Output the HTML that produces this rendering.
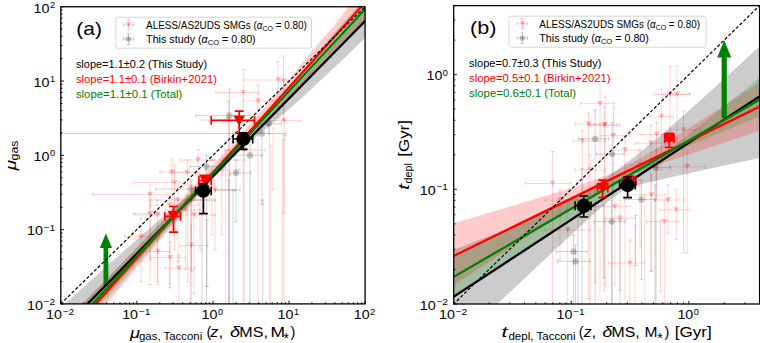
<!DOCTYPE html>
<html><head><meta charset="utf-8"><style>html,body{margin:0;padding:0;background:#fff;}svg{display:block;}</style></head>
<body><svg width="760" height="343" viewBox="0 0 760 343">
<rect width="760" height="343" fill="#fff"/>
<defs><clipPath id="ca"><rect x="60.8" y="6.75" width="304.3" height="297.15"/></clipPath><clipPath id="cb"><rect x="453.7" y="5.6" width="305.9" height="298.4"/></clipPath></defs>
<g clip-path="url(#ca)">
<path d="M244.5 80H287M244.5 78V82M287 78V82M278 62V118M276 62H280M276 118H280" stroke="#f00" stroke-width="0.9" fill="none" stroke-opacity="0.2"/>
<path d="M275 77.3L281 77.3L278 82.7Z" fill="#f00" fill-opacity="0.25"/>
<path d="M283.5 56V120M281.5 56H285.5M281.5 120H285.5" stroke="#f00" stroke-width="0.9" fill="none" stroke-opacity="0.2"/>
<path d="M280.5 78.3L286.5 78.3L283.5 83.7Z" fill="#f00" fill-opacity="0.25"/>
<path d="M215.7 92.5H259M215.7 90.5V94.5M259 90.5V94.5M243.3 69.4V312M241.3 69.4H245.3M241.3 312H245.3" stroke="#f00" stroke-width="0.9" fill="none" stroke-opacity="0.2"/>
<path d="M240.3 89.8L246.3 89.8L243.3 95.2Z" fill="#f00" fill-opacity="0.25"/>
<path d="M260.4 120.6H301M260.4 118.6V122.6M301 118.6V122.6M284 89V312M282 89H286M282 312H286" stroke="#f00" stroke-width="0.9" fill="none" stroke-opacity="0.2"/>
<path d="M281 117.9L287 117.9L284 123.3Z" fill="#f00" fill-opacity="0.25"/>
<path d="M243 101H275M243 99V103M275 99V103M258 85V312M256 85H260M256 312H260" stroke="#f00" stroke-width="0.9" fill="none" stroke-opacity="0.2"/>
<path d="M255 98.3L261 98.3L258 103.7Z" fill="#f00" fill-opacity="0.25"/>
<path d="M200 120H250M200 118V122M250 118V122M228.3 101V312M226.3 101H230.3M226.3 312H230.3" stroke="#f00" stroke-width="0.9" fill="none" stroke-opacity="0.2"/>
<path d="M225.3 117.3L231.3 117.3L228.3 122.7Z" fill="#f00" fill-opacity="0.25"/>
<path d="M92.6 194.4H166.6M92.6 192.4V196.4M166.6 192.4V196.4M150 185V284.5M148 185H152M148 284.5H152" stroke="#f00" stroke-width="0.9" fill="none" stroke-opacity="0.2"/>
<path d="M147 191.7L153 191.7L150 197.1Z" fill="#f00" fill-opacity="0.25"/>
<path d="M133.8 182.6H185M133.8 180.6V184.6M185 180.6V184.6M174.5 165V250M172.5 165H176.5M172.5 250H176.5" stroke="#f00" stroke-width="0.9" fill="none" stroke-opacity="0.2"/>
<path d="M171.5 179.9L177.5 179.9L174.5 185.3Z" fill="#f00" fill-opacity="0.25"/>
<path d="M170 172.6H200M170 170.6V174.6M200 170.6V174.6M187.6 160V282M185.6 160H189.6M185.6 282H189.6" stroke="#f00" stroke-width="0.9" fill="none" stroke-opacity="0.2"/>
<path d="M184.6 169.9L190.6 169.9L187.6 175.3Z" fill="#f00" fill-opacity="0.25"/>
<path d="M165 210H200M165 208V212M200 208V212M185.8 195V269.6M183.8 195H187.8M183.8 269.6H187.8" stroke="#f00" stroke-width="0.9" fill="none" stroke-opacity="0.2"/>
<path d="M182.8 207.3L188.8 207.3L185.8 212.7Z" fill="#f00" fill-opacity="0.25"/>
<path d="M175 200H210M175 198V202M210 198V202M190.8 185V312M188.8 185H192.8M188.8 312H192.8" stroke="#f00" stroke-width="0.9" fill="none" stroke-opacity="0.2"/>
<path d="M187.8 197.3L193.8 197.3L190.8 202.7Z" fill="#f00" fill-opacity="0.25"/>
<path d="M180 215H215M180 213V217M215 213V217M194 205V293.2M192 205H196M192 293.2H196" stroke="#f00" stroke-width="0.9" fill="none" stroke-opacity="0.2"/>
<path d="M191 212.3L197 212.3L194 217.7Z" fill="#f00" fill-opacity="0.25"/>
<path d="M195 175H230M195 173V177M230 173V177M211.9 160V235M209.9 160H213.9M209.9 235H213.9" stroke="#f00" stroke-width="0.9" fill="none" stroke-opacity="0.2"/>
<path d="M208.9 172.3L214.9 172.3L211.9 177.7Z" fill="#f00" fill-opacity="0.25"/>
<path d="M205 170H240M205 168V172M240 168V172M221.8 155V235M219.8 155H223.8M219.8 235H223.8" stroke="#f00" stroke-width="0.9" fill="none" stroke-opacity="0.2"/>
<path d="M218.8 167.3L224.8 167.3L221.8 172.7Z" fill="#f00" fill-opacity="0.25"/>
<path d="M210 160H245M210 158V162M245 158V162M225.5 150V312M223.5 150H227.5M223.5 312H227.5" stroke="#f00" stroke-width="0.9" fill="none" stroke-opacity="0.2"/>
<path d="M222.5 157.3L228.5 157.3L225.5 162.7Z" fill="#f00" fill-opacity="0.25"/>
<path d="M225 150H265M225 148V152M265 148V152M244.1 140V312M242.1 140H246.1M242.1 312H246.1" stroke="#f00" stroke-width="0.9" fill="none" stroke-opacity="0.2"/>
<path d="M241.1 147.3L247.1 147.3L244.1 152.7Z" fill="#f00" fill-opacity="0.25"/>
<path d="M269.4 125V312M267.4 125H271.4M267.4 312H271.4" stroke="#f00" stroke-width="0.9" fill="none" stroke-opacity="0.2"/>
<path d="M273.1 128V189.8M271.1 128H275.1M271.1 189.8H275.1" stroke="#f00" stroke-width="0.9" fill="none" stroke-opacity="0.2"/>
<path d="M284 135V213M282 135H286M282 213H286" stroke="#f00" stroke-width="0.9" fill="none" stroke-opacity="0.2"/>
<path d="M270.9 145V312M268.9 145H272.9M268.9 312H272.9" stroke="#f00" stroke-width="0.9" fill="none" stroke-opacity="0.2"/>
<path d="M282.6 140V312M280.6 140H284.6M280.6 312H284.6" stroke="#f00" stroke-width="0.9" fill="none" stroke-opacity="0.2"/>
<path d="M135 215H170M135 213V217M170 213V217M157.3 200V282M155.3 200H159.3M155.3 282H159.3" stroke="#f00" stroke-width="0.9" fill="none" stroke-opacity="0.2"/>
<path d="M154.3 212.3L160.3 212.3L157.3 217.7Z" fill="#f00" fill-opacity="0.25"/>
<path d="M150 205H190M150 203V207M190 203V207M169.7 195V284M167.7 195H171.7M167.7 284H171.7" stroke="#f00" stroke-width="0.9" fill="none" stroke-opacity="0.2"/>
<path d="M166.7 202.3L172.7 202.3L169.7 207.7Z" fill="#f00" fill-opacity="0.25"/>
<path d="M185 185H215M185 183V187M215 183V187M200 175V250M198 175H202M198 250H202" stroke="#f00" stroke-width="0.9" fill="none" stroke-opacity="0.2"/>
<path d="M197 182.3L203 182.3L200 187.7Z" fill="#f00" fill-opacity="0.25"/>
<path d="M200 190H235M200 188V192M235 188V192M215 180V250M213 180H217M213 250H217" stroke="#f00" stroke-width="0.9" fill="none" stroke-opacity="0.2"/>
<path d="M212 187.3L218 187.3L215 192.7Z" fill="#f00" fill-opacity="0.25"/>
<path d="M150 200H195M150 198V202M195 198V202M178 188V262M176 188H180M176 262H180" stroke="#f00" stroke-width="0.9" fill="none" stroke-opacity="0.2"/>
<path d="M175 197.3L181 197.3L178 202.7Z" fill="#f00" fill-opacity="0.25"/>
<path d="M160 172H186M160 170V174M186 170V174M172 160V230M170 160H174M170 230H174" stroke="#f00" stroke-width="0.9" fill="none" stroke-opacity="0.2"/>
<path d="M169 169.3L175 169.3L172 174.7Z" fill="#f00" fill-opacity="0.25"/>
<path d="M180 160H215M180 158V162M215 158V162M198 150V205M196 150H200M196 205H200" stroke="#f00" stroke-width="0.9" fill="none" stroke-opacity="0.2"/>
<path d="M195 157.3L201 157.3L198 162.7Z" fill="#f00" fill-opacity="0.25"/>
<path d="M124.5 236.4H159.4M124.5 234.4V238.4M159.4 234.4V238.4M141.2 218V281.8M139.2 218H143.2M139.2 281.8H143.2" stroke="#f00" stroke-width="0.9" fill="none" stroke-opacity="0.2"/>
<path d="M138.2 233.7L144.2 233.7L141.2 239.1Z" fill="#f00" fill-opacity="0.25"/>
<path d="M142.7 251.5H170M142.7 249.5V253.5M170 249.5V253.5M157.9 239V284.8M155.9 239H159.9M155.9 284.8H159.9" stroke="#f00" stroke-width="0.9" fill="none" stroke-opacity="0.2"/>
<path d="M154.9 248.8L160.9 248.8L157.9 254.2Z" fill="#f00" fill-opacity="0.25"/>
<path d="M150.3 257.6H185.2M150.3 255.6V259.6M185.2 255.6V259.6M170 242V287.9M168 242H172M168 287.9H172" stroke="#f00" stroke-width="0.9" fill="none" stroke-opacity="0.2"/>
<path d="M167 254.9L173 254.9L170 260.3Z" fill="#f00" fill-opacity="0.25"/>
<path d="M180.6 245.5H207.9M180.6 243.5V247.5M207.9 243.5V247.5M191.2 225V312M189.2 225H193.2M189.2 312H193.2" stroke="#f00" stroke-width="0.9" fill="none" stroke-opacity="0.2"/>
<path d="M188.2 242.8L194.2 242.8L191.2 248.2Z" fill="#f00" fill-opacity="0.25"/>
<path d="M133.6 213.6H159.4M133.6 211.6V215.6M159.4 211.6V215.6M150 200V260M148 200H152M148 260H152" stroke="#f00" stroke-width="0.9" fill="none" stroke-opacity="0.2"/>
<path d="M147 210.9L153 210.9L150 216.3Z" fill="#f00" fill-opacity="0.25"/>
<path d="M165 268.2H195M165 266.2V270.2M195 266.2V270.2M179 255V312M177 255H181M177 312H181" stroke="#f00" stroke-width="0.9" fill="none" stroke-opacity="0.2"/>
<path d="M176 265.5L182 265.5L179 270.9Z" fill="#f00" fill-opacity="0.25"/>
<path d="M60.8 133.5H286M60.8 131.5V135.5M286 131.5V135.5M262 125V204.3M260 125H264M260 204.3H264" stroke="#000" stroke-width="0.9" fill="none" stroke-opacity="0.2"/>
<circle cx="262" cy="133.5" r="3.2" fill="#000" fill-opacity="0.22"/>
<path d="M196 115.4H253.8M196 113.4V117.4M253.8 113.4V117.4M229.4 89.1V312M227.4 89.1H231.4M227.4 312H231.4" stroke="#000" stroke-width="0.9" fill="none" stroke-opacity="0.2"/>
<circle cx="229.4" cy="115.4" r="3.2" fill="#000" fill-opacity="0.22"/>
<path d="M259 123.8H281.4M259 121.8V125.8M281.4 121.8V125.8M268.8 114V133.7M266.8 114H270.8M266.8 133.7H270.8" stroke="#000" stroke-width="0.9" fill="none" stroke-opacity="0.2"/>
<circle cx="268.8" cy="123.8" r="3.2" fill="#000" fill-opacity="0.22"/>
<path d="M235.8 155.2H262M235.8 153.2V157.2M262 153.2V157.2M250 145V312M248 145H252M248 312H252" stroke="#000" stroke-width="0.9" fill="none" stroke-opacity="0.2"/>
<circle cx="250" cy="155.2" r="3.2" fill="#000" fill-opacity="0.22"/>
<path d="M230 173H251M230 171V175M251 171V175M236 160V221.8M234 160H238M234 221.8H238" stroke="#000" stroke-width="0.9" fill="none" stroke-opacity="0.2"/>
<circle cx="236" cy="173" r="3.2" fill="#000" fill-opacity="0.22"/>
<path d="M190 166.6H225M190 164.6V168.6M225 164.6V168.6M206.6 155V312M204.6 155H208.6M204.6 312H208.6" stroke="#000" stroke-width="0.9" fill="none" stroke-opacity="0.2"/>
<circle cx="206.6" cy="166.6" r="3.2" fill="#000" fill-opacity="0.22"/>
<path d="M156 189H195.5M156 187V191M195.5 187V191M191.4 180V270.9M189.4 180H193.4M189.4 270.9H193.4" stroke="#000" stroke-width="0.9" fill="none" stroke-opacity="0.2"/>
<circle cx="191.4" cy="189" r="3.2" fill="#000" fill-opacity="0.22"/>
<path d="M190 200H215M190 198V202M215 198V202M202 190V312M200 190H204M200 312H204" stroke="#000" stroke-width="0.9" fill="none" stroke-opacity="0.2"/>
<path d="M215 190H240M215 188V192M240 188V192M228.8 180V312M226.8 180H230.8M226.8 312H230.8" stroke="#000" stroke-width="0.9" fill="none" stroke-opacity="0.2"/>
<path d="M233 190V312M231 190H235M231 312H235" stroke="#000" stroke-width="0.9" fill="none" stroke-opacity="0.2"/>
<path d="M262.8 200V312M260.8 200H264.8M260.8 312H264.8" stroke="#000" stroke-width="0.9" fill="none" stroke-opacity="0.2"/>
<path d="M206.9 220V286.5M204.9 220H208.9M204.9 286.5H208.9" stroke="#000" stroke-width="0.9" fill="none" stroke-opacity="0.2"/>
<path d="M49.39 318.6L52.11 316.05L54.84 313.5L57.57 310.95L60.29 308.41L63.02 305.86L65.74 303.31L68.47 300.76L71.2 298.22L73.92 295.75L76.65 293.31L79.37 290.86L82.1 288.42L84.83 285.98L87.55 283.54L90.28 281.09L93.01 278.65L95.73 276.21L98.46 273.77L101.18 271.32L103.91 268.88L106.64 266.44L109.36 264L112.09 261.55L114.81 259.11L117.54 256.67L120.27 254.23L122.99 251.78L125.72 249.34L128.44 246.94L131.17 244.54L133.9 242.14L136.62 239.74L139.35 237.34L142.07 234.94L144.8 232.54L147.53 230.14L150.25 227.74L152.98 225.34L155.7 222.94L158.43 220.56L161.16 218.26L163.88 215.97L166.61 213.68L169.33 211.39L172.06 209.09L174.79 206.8L177.51 204.51L180.24 202.22L182.96 199.93L185.69 197.49L188.42 195.04L191.14 192.6L193.87 190.16L196.59 187.72L199.32 185.28L202.05 182.84L204.77 180.4L207.5 177.95L210.22 175.51L212.95 173.07L215.68 170.43L218.4 167.78L221.13 165.13L223.85 162.49L226.58 159.84L229.31 157.2L232.03 154.55L234.76 151.9L237.48 149.26L240.21 146.61L242.94 143.97L245.66 141.06L248.39 138.1L251.11 135.15L253.84 132.19L256.57 129.23L259.29 126.28L262.02 123.32L264.74 120.36L267.47 117.41L270.2 114.45L272.92 111.49L275.65 108.54L278.37 105.58L281.1 102.63L283.83 99.67L286.55 96.71L289.28 93.75L292 90.77L294.73 87.8L297.46 84.82L300.18 81.84L302.91 78.86L305.63 75.88L308.36 72.9L311.09 69.92L313.81 66.94L316.54 63.97L319.26 60.99L321.99 57.98L324.72 54.97L327.44 51.96L330.17 48.95L332.89 45.94L335.62 42.94L338.35 39.93L341.07 36.92L343.8 33.91L346.53 30.9L349.25 27.89L351.98 24.88L354.7 21.92L357.43 18.97L360.16 16.03L362.88 13.09L365.61 10.15L368.33 7.21L371.06 4.27L373.79 1.32L376.51 -1.62L376.51 26.95L373.79 29.6L371.06 32.25L368.33 34.9L365.61 37.56L362.88 40.21L360.16 42.84L357.43 45.46L354.7 48.09L351.98 50.71L349.25 53.34L346.53 55.97L343.8 58.59L341.07 61.19L338.35 63.74L335.62 66.29L332.89 68.85L330.17 71.4L327.44 73.95L324.72 76.51L321.99 79.06L319.26 81.61L316.54 84.17L313.81 86.72L311.09 89.27L308.36 91.83L305.63 94.38L302.91 96.93L300.18 99.49L297.46 101.85L294.73 104.17L292 106.49L289.28 108.81L286.55 111.13L283.83 113.45L281.1 115.78L278.37 118.1L275.65 120.42L272.92 122.74L270.2 125.06L267.47 127.38L264.74 129.7L262.02 132.02L259.29 134.34L256.57 136.66L253.84 138.98L251.11 141.3L248.39 143.63L245.66 145.95L242.94 148.27L240.21 150.59L237.48 153.32L234.76 156.17L232.03 159.02L229.31 161.87L226.58 164.72L223.85 167.57L221.13 170.42L218.4 173.27L215.68 176.12L212.95 178.97L210.22 181.82L207.5 184.67L204.77 187.52L202.05 190.37L199.32 193.22L196.59 196.07L193.87 198.92L191.14 201.77L188.42 204.62L185.69 207.47L182.96 210.32L180.24 213.33L177.51 216.38L174.79 219.42L172.06 222.47L169.33 225.51L166.61 228.56L163.88 231.6L161.16 234.65L158.43 237.69L155.7 240.74L152.98 243.78L150.25 246.83L147.53 249.87L144.8 252.92L142.07 255.96L139.35 259.01L136.62 262.05L133.9 265.1L131.17 268.15L128.44 271.19L125.72 274.24L122.99 277.28L120.27 280.33L117.54 283.37L114.81 286.42L112.09 289.46L109.36 292.51L106.64 295.55L103.91 298.51L101.18 301.45L98.46 304.4L95.73 307.34L93.01 310.29L90.28 313.23L87.55 316.18L84.83 319.12L82.1 322.07L79.37 325.01L76.65 327.96L73.92 330.91L71.2 333.85L68.47 336.8L65.74 339.74L63.02 342.69L60.29 345.63L57.57 348.58L54.84 351.52L52.11 354.47L49.39 357.41Z" fill="#000" fill-opacity="0.2" stroke="none"/>
<path d="M49.39 339.73L52.11 336.82L54.84 333.92L57.57 331.01L60.29 328.1L63.02 325.19L65.74 322.29L68.47 319.38L71.2 316.47L73.92 313.56L76.65 310.66L79.37 307.75L82.1 304.84L84.83 301.93L87.55 299.03L90.28 296.16L93.01 293.29L95.73 290.43L98.46 287.56L101.18 284.69L103.91 281.82L106.64 278.96L109.36 276.09L112.09 273.22L114.81 270.35L117.54 267.49L120.27 264.62L122.99 261.75L125.72 258.88L128.44 256.02L131.17 253.15L133.9 250.28L136.62 247.41L139.35 244.54L142.07 241.68L144.8 238.81L147.53 235.94L150.25 233.07L152.98 230.21L155.7 227.34L158.43 224.47L161.16 221.6L163.88 218.74L166.61 215.87L169.33 213L172.06 210.13L174.79 207.27L177.51 204.29L180.24 201.3L182.96 198.31L185.69 195.33L188.42 192.34L191.14 189.35L193.87 186.37L196.59 183.38L199.32 180.4L202.05 177.41L204.77 174.42L207.5 171.44L210.22 168.45L212.95 165.47L215.68 162.48L218.4 159.49L221.13 156.51L223.85 153.52L226.58 150.53L229.31 147.55L232.03 144.56L234.76 141.58L237.48 138.51L240.21 135.4L242.94 132.29L245.66 129.18L248.39 126.07L251.11 122.96L253.84 119.85L256.57 116.74L259.29 113.63L262.02 110.52L264.74 107.41L267.47 104.29L270.2 101.18L272.92 97.96L275.65 94.7L278.37 91.44L281.1 88.18L283.83 84.92L286.55 81.66L289.28 78.41L292 75.15L294.73 71.89L297.46 68.63L300.18 65.37L302.91 62.11L305.63 58.86L308.36 55.6L311.09 52.34L313.81 49.08L316.54 45.82L319.26 42.56L321.99 39.36L324.72 36.25L327.44 33.14L330.17 30.02L332.89 26.91L335.62 23.67L338.35 20.18L341.07 16.69L343.8 13.21L346.53 9.72L349.25 6.24L351.98 2.97L354.7 -0.3L357.43 -3.58L360.16 -6.85L362.88 -10.12L365.61 -13.4L368.33 -16.67L371.06 -19.94L373.79 -23.22L376.51 -26.49L376.51 9.22L373.79 11.99L371.06 14.77L368.33 17.54L365.61 20.32L362.88 23.1L360.16 25.83L357.43 28.28L354.7 30.72L351.98 33.17L349.25 35.62L346.53 38.07L343.8 40.51L341.07 43.38L338.35 46.24L335.62 49.1L332.89 51.96L330.17 54.82L327.44 57.68L324.72 60.54L321.99 63.34L319.26 66.14L316.54 68.93L313.81 71.73L311.09 74.53L308.36 77.33L305.63 80.13L302.91 82.92L300.18 85.72L297.46 88.52L294.73 91.32L292 94.11L289.28 96.91L286.55 99.77L283.83 102.63L281.1 105.49L278.37 108.36L275.65 111.22L272.92 114.08L270.2 116.94L267.47 119.81L264.74 122.67L262.02 125.53L259.29 128.4L256.57 131.26L253.84 134.12L251.11 136.98L248.39 139.85L245.66 142.71L242.94 145.57L240.21 148.43L237.48 151.3L234.76 154.25L232.03 157.37L229.31 160.49L226.58 163.61L223.85 166.73L221.13 169.85L218.4 172.97L215.68 176.09L212.95 179.21L210.22 182.33L207.5 185.45L204.77 188.57L202.05 191.69L199.32 194.8L196.59 197.92L193.87 201.04L191.14 204.16L188.42 207.28L185.69 210.4L182.96 213.52L180.24 216.64L177.51 219.76L174.79 222.88L172.06 226.11L169.33 229.34L166.61 232.57L163.88 235.8L161.16 239.02L158.43 242.25L155.7 245.48L152.98 248.71L150.25 251.94L147.53 255.16L144.8 258.39L142.07 261.62L139.35 264.85L136.62 268.08L133.9 271.31L131.17 274.53L128.44 277.76L125.72 280.99L122.99 284.22L120.27 287.45L117.54 290.67L114.81 293.9L112.09 297.13L109.36 300.34L106.64 303.5L103.91 306.65L101.18 309.81L98.46 312.97L95.73 316.13L93.01 319.29L90.28 322.45L87.55 325.61L84.83 328.77L82.1 331.93L79.37 335.09L76.65 338.25L73.92 341.41L71.2 344.57L68.47 347.72L65.74 350.88L63.02 354.04L60.29 357.2L57.57 360.36L54.84 363.52L52.11 366.68L49.39 369.84Z" fill="#f00" fill-opacity="0.2" stroke="none"/>
<path d="M49.39 338.07L52.11 335.22L54.84 332.37L57.57 329.52L60.29 326.66L63.02 323.81L65.74 320.96L68.47 318.1L71.2 315.25L73.92 312.4L76.65 309.55L79.37 306.69L82.1 303.84L84.83 300.99L87.55 298.14L90.28 295.37L93.01 292.61L95.73 289.84L98.46 287.08L101.18 284.32L103.91 281.55L106.64 278.79L109.36 276.02L112.09 273.26L114.81 270.49L117.54 267.73L120.27 264.96L122.99 262.2L125.72 259.43L128.44 256.67L131.17 253.91L133.9 251.14L136.62 248.38L139.35 245.61L142.07 242.85L144.8 240.08L147.53 237.32L150.25 234.55L152.98 231.79L155.7 229.02L158.43 226.26L161.16 223.5L163.88 220.73L166.61 217.97L169.33 215.2L172.06 212.44L174.79 209.67L177.51 206.83L180.24 203.98L182.96 201.13L185.69 198.28L188.42 195.43L191.14 192.58L193.87 189.73L196.59 186.88L199.32 184.03L202.05 181.18L204.77 178.33L207.5 175.48L210.22 172.63L212.95 169.78L215.68 166.93L218.4 164.08L221.13 161.23L223.85 158.38L226.58 155.53L229.31 152.68L232.03 149.83L234.76 146.98L237.48 144.02L240.21 140.99L242.94 137.97L245.66 134.94L248.39 131.91L251.11 128.89L253.84 125.86L256.57 122.84L259.29 119.81L262.02 116.79L264.74 113.76L267.47 110.73L270.2 107.71L272.92 104.68L275.65 101.66L278.37 98.63L281.1 95.61L283.83 92.58L286.55 89.55L289.28 86.52L292 83.4L294.73 80.29L297.46 77.17L300.18 74.06L302.91 70.94L305.63 67.82L308.36 64.71L311.09 61.59L313.81 58.41L316.54 54.9L319.26 51.39L321.99 47.88L324.72 44.37L327.44 40.86L330.17 37.67L332.89 34.53L335.62 31.4L338.35 28.26L341.07 25.13L343.8 22.03L346.53 18.94L349.25 15.85L351.98 12.75L354.7 9.66L357.43 6.57L360.16 3.47L362.88 0.38L365.61 -2.71L368.33 -5.81L371.06 -8.9L373.79 -11.99L376.51 -15.08L376.51 9.03L373.79 11.84L371.06 14.64L368.33 17.45L365.61 20.26L362.88 23.06L360.16 25.83L357.43 28.34L354.7 30.86L351.98 33.37L349.25 35.88L346.53 38.4L343.8 40.91L341.07 43.71L338.35 46.52L335.62 49.32L332.89 52.12L330.17 54.92L327.44 57.72L324.72 60.53L321.99 63.33L319.26 66.13L316.54 68.93L313.81 71.73L311.09 74.53L308.36 77.34L305.63 80.14L302.91 82.94L300.18 85.74L297.46 88.54L294.73 91.35L292 94.15L289.28 96.95L286.55 99.78L283.83 102.62L281.1 105.45L278.37 108.29L275.65 111.12L272.92 113.96L270.2 116.8L267.47 119.63L264.74 122.47L262.02 125.3L259.29 128.14L256.57 130.97L253.84 133.81L251.11 136.65L248.39 139.48L245.66 142.32L242.94 145.15L240.21 147.99L237.48 150.82L234.76 153.74L232.03 156.79L229.31 159.84L226.58 162.89L223.85 165.94L221.13 168.99L218.4 172.04L215.68 175.09L212.95 178.13L210.22 181.18L207.5 184.23L204.77 187.28L202.05 190.33L199.32 193.38L196.59 196.43L193.87 199.48L191.14 202.53L188.42 205.58L185.69 208.63L182.96 211.68L180.24 214.73L177.51 217.78L174.79 220.83L172.06 224L169.33 227.16L166.61 230.32L163.88 233.48L161.16 236.64L158.43 239.81L155.7 242.97L152.98 246.13L150.25 249.29L147.53 252.45L144.8 255.62L142.07 258.78L139.35 261.94L136.62 265.1L133.9 268.27L131.17 271.43L128.44 274.59L125.72 277.75L122.99 280.91L120.27 284.08L117.54 287.24L114.81 290.4L112.09 293.56L109.36 296.72L106.64 299.86L103.91 302.91L101.18 305.95L98.46 309L95.73 312.04L93.01 315.09L90.28 318.13L87.55 321.18L84.83 324.22L82.1 327.27L79.37 330.31L76.65 333.36L73.92 336.4L71.2 339.45L68.47 342.49L65.74 345.54L63.02 348.58L60.29 351.63L57.57 354.67L54.84 357.72L52.11 360.76L49.39 363.81Z" fill="#008000" fill-opacity="0.2" stroke="none"/>
<path d="M103.5 286V248H99.8L105.9 233.6L112 248H108.3V286Z" fill="#008000"/>
<path d="M53.19 338.91L372.71 13.18" stroke="#000" stroke-width="2.3" fill="none"/>
<path d="M53.19 351.61L372.71 -6.2" stroke="#f00" stroke-width="2.3" fill="none"/>
<path d="M53.19 346.45L372.71 0.72" stroke="#008000" stroke-width="2.3" fill="none"/>
<path d="M53.19 311.33L372.71 -0.68" stroke="#000" stroke-width="1.2" fill="none" stroke-dasharray="3.2,2.0"/>
<path d="M164.9 216.3H180.5M164.9 211.9V220.7M180.5 211.9V220.7M173.5 206.5V232.1M169.1 206.5H177.9M169.1 232.1H177.9" stroke="#f00" stroke-width="1.7" fill="none" stroke-opacity="1.0"/>
<path d="M167.6 210.9L179.4 210.9L173.5 221.5Z" fill="#f00" fill-opacity="1.0"/>
<path d="M198.9 180.5H211.2M198.9 176.1V184.9M211.2 176.1V184.9M205.1 175.5V186M200.7 175.5H209.5M200.7 186H209.5" stroke="#f00" stroke-width="1.7" fill="none" stroke-opacity="1.0"/>
<path d="M199.2 174.8L211 174.8L205.1 185.4Z" fill="#f00" fill-opacity="1.0"/>
<path d="M211.2 120.4H254.5M211.2 116V124.8M254.5 116V124.8M239.2 111.2V133.4M234.8 111.2H243.6M234.8 133.4H243.6" stroke="#f00" stroke-width="1.7" fill="none" stroke-opacity="1.0"/>
<path d="M233.3 115.5L245.1 115.5L239.2 126.1Z" fill="#f00" fill-opacity="1.0"/>
<path d="M195.6 190.8H211.2M195.6 186.4V195.2M211.2 186.4V195.2M203.4 184V213.7M199 184H207.8M199 213.7H207.8" stroke="#000" stroke-width="1.7" fill="none" stroke-opacity="1.0"/>
<circle cx="203.4" cy="190.8" r="6.9" fill="#000" fill-opacity="1.0"/>
<path d="M233.1 139H252.7M233.1 134.6V143.4M252.7 134.6V143.4M243.3 133.1V149.3M238.9 133.1H247.7M238.9 149.3H247.7" stroke="#000" stroke-width="1.7" fill="none" stroke-opacity="1.0"/>
<circle cx="243.3" cy="139" r="7" fill="#000" fill-opacity="1.0"/>
</g>
<g clip-path="url(#cb)">
<path d="M580.5 103.6H614.1M580.5 101.6V105.6M614.1 101.6V105.6M600.1 82.6V160M598.1 82.6H602.1M598.1 160H602.1" stroke="#f00" stroke-width="0.9" fill="none" stroke-opacity="0.2"/>
<path d="M597.1 100.9L603.1 100.9L600.1 106.3Z" fill="#f00" fill-opacity="0.25"/>
<path d="M588 124.6H617.1M588 122.6V126.6M617.1 122.6V126.6M605 97.3V180M603 97.3H607M603 180H607" stroke="#f00" stroke-width="0.9" fill="none" stroke-opacity="0.2"/>
<path d="M602 121.9L608 121.9L605 127.3Z" fill="#f00" fill-opacity="0.25"/>
<path d="M654.4 94.3H689.4M654.4 92.3V96.3M689.4 92.3V96.3M670 66.3V140M668 66.3H672M668 140H672" stroke="#f00" stroke-width="0.9" fill="none" stroke-opacity="0.2"/>
<path d="M667 91.6L673 91.6L670 97Z" fill="#f00" fill-opacity="0.25"/>
<path d="M663.7 94.3H690M663.7 92.3V96.3M690 92.3V96.3M677 65.9V150M675 65.9H679M675 150H679" stroke="#f00" stroke-width="0.9" fill="none" stroke-opacity="0.2"/>
<path d="M674 91.6L680 91.6L677 97Z" fill="#f00" fill-opacity="0.25"/>
<path d="M649.7 116.4H673M649.7 114.4V118.4M673 114.4V118.4M661.4 89.2V170M659.4 89.2H663.4M659.4 170H663.4" stroke="#f00" stroke-width="0.9" fill="none" stroke-opacity="0.2"/>
<path d="M658.4 113.7L664.4 113.7L661.4 119.1Z" fill="#f00" fill-opacity="0.25"/>
<path d="M600 135.7H630M600 133.7V137.7M630 133.7V137.7M613.5 107.1V190M611.5 107.1H615.5M611.5 190H615.5" stroke="#f00" stroke-width="0.9" fill="none" stroke-opacity="0.2"/>
<path d="M610.5 133L616.5 133L613.5 138.4Z" fill="#f00" fill-opacity="0.25"/>
<path d="M640 134.5H670M640 132.5V136.5M670 132.5V136.5M656.6 122.3V200M654.6 122.3H658.6M654.6 200H658.6" stroke="#f00" stroke-width="0.9" fill="none" stroke-opacity="0.2"/>
<path d="M653.6 131.8L659.6 131.8L656.6 137.2Z" fill="#f00" fill-opacity="0.25"/>
<path d="M635 143.3H665M635 141.3V145.3M665 141.3V145.3M650.8 125V271M648.8 125H652.8M648.8 271H652.8" stroke="#f00" stroke-width="0.9" fill="none" stroke-opacity="0.2"/>
<path d="M647.8 140.6L653.8 140.6L650.8 146Z" fill="#f00" fill-opacity="0.25"/>
<path d="M525.6 183.5H570.8M525.6 181.5V185.5M570.8 181.5V185.5M552.6 151.5V312M550.6 151.5H554.6M550.6 312H554.6" stroke="#f00" stroke-width="0.9" fill="none" stroke-opacity="0.2"/>
<path d="M549.6 180.8L555.6 180.8L552.6 186.2Z" fill="#f00" fill-opacity="0.25"/>
<path d="M545 230H590M545 228V232M590 228V232M567.7 200V312M565.7 200H569.7M565.7 312H569.7" stroke="#f00" stroke-width="0.9" fill="none" stroke-opacity="0.2"/>
<path d="M564.7 227.3L570.7 227.3L567.7 232.7Z" fill="#f00" fill-opacity="0.25"/>
<path d="M595 206.6H630M595 204.6V208.6M630 204.6V208.6M614.9 195V284.8M612.9 195H616.9M612.9 284.8H616.9" stroke="#f00" stroke-width="0.9" fill="none" stroke-opacity="0.2"/>
<path d="M611.9 203.9L617.9 203.9L614.9 209.3Z" fill="#f00" fill-opacity="0.25"/>
<path d="M605 218.2H635M605 216.2V220.2M635 216.2V220.2M619.9 200V290.3M617.9 200H621.9M617.9 290.3H621.9" stroke="#f00" stroke-width="0.9" fill="none" stroke-opacity="0.2"/>
<path d="M616.9 215.5L622.9 215.5L619.9 220.9Z" fill="#f00" fill-opacity="0.25"/>
<path d="M608.3 263.1H644.8M608.3 261.1V265.1M644.8 261.1V265.1M629.9 240V312M627.9 240H631.9M627.9 312H631.9" stroke="#f00" stroke-width="0.9" fill="none" stroke-opacity="0.2"/>
<path d="M626.9 260.4L632.9 260.4L629.9 265.8Z" fill="#f00" fill-opacity="0.25"/>
<path d="M646.5 221.6H678M646.5 219.6V223.6M678 219.6V223.6M664.7 200V312M662.7 200H666.7M662.7 312H666.7" stroke="#f00" stroke-width="0.9" fill="none" stroke-opacity="0.2"/>
<path d="M661.7 218.9L667.7 218.9L664.7 224.3Z" fill="#f00" fill-opacity="0.25"/>
<path d="M630 195H665M630 193V197M665 193V197M651.5 175V271.4M649.5 175H653.5M649.5 271.4H653.5" stroke="#f00" stroke-width="0.9" fill="none" stroke-opacity="0.2"/>
<path d="M648.5 192.3L654.5 192.3L651.5 197.7Z" fill="#f00" fill-opacity="0.25"/>
<path d="M670 166.8H705M670 164.8V168.8M705 164.8V168.8M687.2 150V253M685.2 150H689.2M685.2 253H689.2" stroke="#f00" stroke-width="0.9" fill="none" stroke-opacity="0.2"/>
<path d="M684.2 164.1L690.2 164.1L687.2 169.5Z" fill="#f00" fill-opacity="0.25"/>
<path d="M655 200H685M655 198V202M685 198V202M668 185V233.2M666 185H670M666 233.2H670" stroke="#f00" stroke-width="0.9" fill="none" stroke-opacity="0.2"/>
<path d="M665 197.3L671 197.3L668 202.7Z" fill="#f00" fill-opacity="0.25"/>
<path d="M660 210H690M660 208V212M690 208V212M676.3 190V239.8M674.3 190H678.3M674.3 239.8H678.3" stroke="#f00" stroke-width="0.9" fill="none" stroke-opacity="0.2"/>
<path d="M673.3 207.3L679.3 207.3L676.3 212.7Z" fill="#f00" fill-opacity="0.25"/>
<path d="M575.2 124H600M575.2 122V126M600 122V126M588.6 113V298.6M586.6 113H590.6M586.6 298.6H590.6" stroke="#f00" stroke-width="0.9" fill="none" stroke-opacity="0.2"/>
<path d="M585.6 121.3L591.6 121.3L588.6 126.7Z" fill="#f00" fill-opacity="0.25"/>
<path d="M590 125.2H620M590 123.2V127.2M620 123.2V127.2M604.3 107.1V290.3M602.3 107.1H606.3M602.3 290.3H606.3" stroke="#f00" stroke-width="0.9" fill="none" stroke-opacity="0.2"/>
<path d="M601.3 122.5L607.3 122.5L604.3 127.9Z" fill="#f00" fill-opacity="0.25"/>
<path d="M670 130H700M670 128V132M700 128V132M683.5 111V253M681.5 111H685.5M681.5 253H685.5" stroke="#f00" stroke-width="0.9" fill="none" stroke-opacity="0.2"/>
<path d="M680.5 127.3L686.5 127.3L683.5 132.7Z" fill="#f00" fill-opacity="0.25"/>
<path d="M660.5 220V291.7M658.5 220H662.5M658.5 291.7H662.5" stroke="#f00" stroke-width="0.9" fill="none" stroke-opacity="0.2"/>
<path d="M605.1 220V284.8M603.1 220H607.1M603.1 284.8H607.1" stroke="#f00" stroke-width="0.9" fill="none" stroke-opacity="0.2"/>
<path d="M572.8 141H605.6M572.8 139V143M605.6 139V143M582.3 130V200M580.3 130H584.3M580.3 200H584.3" stroke="#f00" stroke-width="0.9" fill="none" stroke-opacity="0.2"/>
<path d="M579.3 138.3L585.3 138.3L582.3 143.7Z" fill="#f00" fill-opacity="0.25"/>
<path d="M595 210V283M593 210H597M593 283H597" stroke="#f00" stroke-width="0.9" fill="none" stroke-opacity="0.2"/>
<path d="M600 230V300M598 230H602M598 300H602" stroke="#f00" stroke-width="0.9" fill="none" stroke-opacity="0.2"/>
<path d="M635 225V312M633 225H637M633 312H637" stroke="#f00" stroke-width="0.9" fill="none" stroke-opacity="0.2"/>
<path d="M645 195V312M643 195H647M643 312H647" stroke="#f00" stroke-width="0.9" fill="none" stroke-opacity="0.2"/>
<path d="M610 150H640M610 148V152M640 148V152M625 135V312M623 135H627M623 312H627" stroke="#f00" stroke-width="0.9" fill="none" stroke-opacity="0.2"/>
<path d="M622 147.3L628 147.3L625 152.7Z" fill="#f00" fill-opacity="0.25"/>
<path d="M625 165H655M625 163V167M655 163V167M640 150V248M638 150H642M638 248H642" stroke="#f00" stroke-width="0.9" fill="none" stroke-opacity="0.2"/>
<path d="M637 162.3L643 162.3L640 167.7Z" fill="#f00" fill-opacity="0.25"/>
<path d="M575 170H605M575 168V172M605 168V172M590 155V312M588 155H592M588 312H592" stroke="#f00" stroke-width="0.9" fill="none" stroke-opacity="0.2"/>
<path d="M587 167.3L593 167.3L590 172.7Z" fill="#f00" fill-opacity="0.25"/>
<path d="M545 200H575M545 198V202M575 198V202M560 190V260M558 190H562M558 260H562" stroke="#f00" stroke-width="0.9" fill="none" stroke-opacity="0.2"/>
<path d="M557 197.3L563 197.3L560 202.7Z" fill="#f00" fill-opacity="0.25"/>
<path d="M578 138.9H608.8M578 136.9V140.9M608.8 136.9V140.9M595.1 110.1V312M593.1 110.1H597.1M593.1 312H597.1" stroke="#000" stroke-width="0.9" fill="none" stroke-opacity="0.2"/>
<circle cx="595.1" cy="138.9" r="3.2" fill="#000" fill-opacity="0.22"/>
<path d="M596.4 154.1H624M596.4 152.1V156.1M624 152.1V156.1M612.2 122.3V312M610.2 122.3H614.2M610.2 312H614.2" stroke="#000" stroke-width="0.9" fill="none" stroke-opacity="0.2"/>
<circle cx="612.2" cy="154.1" r="3.2" fill="#000" fill-opacity="0.22"/>
<path d="M640 167.7H670M640 165.7V169.7M670 165.7V169.7M656 150V312M654 150H658M654 312H658" stroke="#000" stroke-width="0.9" fill="none" stroke-opacity="0.2"/>
<circle cx="656" cy="167.7" r="3.2" fill="#000" fill-opacity="0.22"/>
<path d="M624.9 199.5H654.8M624.9 197.5V201.5M654.8 197.5V201.5M641.5 180V279.7M639.5 180H643.5M639.5 279.7H643.5" stroke="#000" stroke-width="0.9" fill="none" stroke-opacity="0.2"/>
<circle cx="641.5" cy="199.5" r="3.2" fill="#000" fill-opacity="0.22"/>
<path d="M594 221.6H624.9M594 219.6V223.6M624.9 219.6V223.6M611.6 200V312M609.6 200H613.6M609.6 312H613.6" stroke="#000" stroke-width="0.9" fill="none" stroke-opacity="0.2"/>
<circle cx="611.6" cy="221.6" r="3.2" fill="#000" fill-opacity="0.22"/>
<path d="M556.6 251.5H587.1M556.6 249.5V253.5M587.1 249.5V253.5M573.6 235V312M571.6 235H575.6M571.6 312H575.6" stroke="#000" stroke-width="0.9" fill="none" stroke-opacity="0.2"/>
<circle cx="573.6" cy="251.5" r="3.2" fill="#000" fill-opacity="0.22"/>
<path d="M557.2 261.4H589.9M557.2 259.4V263.4M589.9 259.4V263.4M575.4 245V312M573.4 245H577.4M573.4 312H577.4" stroke="#000" stroke-width="0.9" fill="none" stroke-opacity="0.2"/>
<circle cx="575.4" cy="261.4" r="3.2" fill="#000" fill-opacity="0.22"/>
<path d="M582 168.6V312M580 168.6H584M580 312H584" stroke="#000" stroke-width="0.9" fill="none" stroke-opacity="0.2"/>
<path d="M635.6 215V265.4M633.6 215H637.6M633.6 265.4H637.6" stroke="#000" stroke-width="0.9" fill="none" stroke-opacity="0.2"/>
<path d="M620 220V312M618 220H622M618 312H622" stroke="#000" stroke-width="0.9" fill="none" stroke-opacity="0.2"/>
<path d="M603.7 205V277.9M601.7 205H605.7M601.7 277.9H605.7" stroke="#000" stroke-width="0.9" fill="none" stroke-opacity="0.2"/>
<path d="M655 185V312M653 185H657M653 312H657" stroke="#000" stroke-width="0.9" fill="none" stroke-opacity="0.2"/>
<path d="M578 200V312M576 200H580M576 312H580" stroke="#000" stroke-width="0.9" fill="none" stroke-opacity="0.2"/>
<path d="M436.07 256.76L438.91 255.66L441.75 254.57L444.6 253.47L447.44 252.37L450.28 251.26L453.12 250.16L455.97 249.05L458.81 247.94L461.65 246.82L464.5 245.71L467.34 244.59L470.18 243.47L473.03 242.34L475.87 241.21L478.71 240.08L481.55 238.94L484.4 237.8L487.24 236.65L490.08 235.5L492.93 234.35L495.77 233.19L498.61 232.02L501.46 230.85L504.3 229.68L507.14 228.49L509.99 227.3L512.83 226.1L515.67 224.9L518.51 223.69L521.36 222.46L524.2 221.23L527.04 219.99L529.89 218.74L532.73 217.47L535.57 216.19L538.42 214.9L541.26 213.6L544.1 212.28L546.95 210.95L549.79 209.6L552.63 208.23L555.47 206.84L558.32 205.43L561.16 204.01L564 202.55L566.85 201.08L569.69 199.58L572.53 198.05L575.38 196.49L578.22 194.91L581.06 193.29L583.91 191.65L586.75 189.97L589.59 188.26L592.43 186.51L595.28 184.73L598.12 182.91L600.96 181.06L603.81 179.17L606.65 177.25L609.49 175.29L612.34 173.3L615.18 171.27L618.02 169.21L620.87 167.12L623.71 165L626.55 162.85L629.39 160.66L632.24 158.46L635.08 156.22L637.92 153.96L640.77 151.68L643.61 149.38L646.45 147.05L649.3 144.71L652.14 142.35L654.98 139.97L657.83 137.57L660.67 135.16L663.51 132.73L666.35 130.3L669.2 127.84L672.04 125.38L674.88 122.91L677.73 120.42L680.57 117.93L683.41 115.42L686.26 112.91L689.1 110.39L691.94 107.86L694.79 105.33L697.63 102.79L700.47 100.24L703.31 97.68L706.16 95.12L709 92.56L711.84 89.99L714.69 87.42L717.53 84.84L720.37 82.25L723.22 79.67L726.06 77.08L728.9 74.48L731.75 71.88L734.59 69.28L737.43 66.68L740.27 64.07L743.12 61.46L745.96 58.85L748.8 56.24L751.65 53.62L754.49 51L757.33 48.38L760.18 45.75L763.02 43.13L765.86 40.5L768.7 37.87L771.55 35.24L774.39 32.61L777.23 29.97L777.23 154.12L774.39 154.74L771.55 155.35L768.7 155.96L765.86 156.58L763.02 157.19L760.18 157.8L757.33 158.42L754.49 159.03L751.65 159.65L748.8 160.26L745.96 160.88L743.12 161.49L740.27 162.11L737.43 162.72L734.59 163.34L731.75 163.96L728.9 164.57L726.06 165.19L723.22 165.81L720.37 166.43L717.53 167.05L714.69 167.66L711.84 168.28L709 168.9L706.16 169.52L703.31 170.15L700.47 170.77L697.63 171.39L694.79 172.01L691.94 172.64L689.1 173.27L686.26 173.89L683.41 174.52L680.57 175.15L677.73 175.79L674.88 176.42L672.04 177.06L669.2 177.7L666.35 178.34L663.51 178.99L660.67 179.65L657.83 180.31L654.98 180.98L652.14 181.65L649.3 182.34L646.45 183.05L643.61 183.77L640.77 184.52L637.92 185.31L635.08 186.15L632.24 187.06L629.39 188.07L626.55 189.23L623.71 190.6L620.87 192.25L618.02 194.15L615.18 196.18L612.34 198.33L609.49 200.58L606.65 202.92L603.81 205.32L600.96 207.77L598.12 210.27L595.28 212.79L592.43 215.34L589.59 217.91L586.75 220.5L583.91 223.1L581.06 225.71L578.22 228.33L575.38 230.96L572.53 233.59L569.69 236.23L566.85 238.87L564 241.52L561.16 244.17L558.32 246.82L555.47 249.47L552.63 252.13L549.79 254.79L546.95 257.45L544.1 260.12L541.26 262.78L538.42 265.45L535.57 268.12L532.73 270.79L529.89 273.45L527.04 276.13L524.2 278.8L521.36 281.47L518.51 284.14L515.67 286.81L512.83 289.49L509.99 292.16L507.14 294.84L504.3 297.51L501.46 300.19L498.61 302.87L495.77 305.54L492.93 308.22L490.08 310.9L487.24 313.57L484.4 316.25L481.55 318.93L478.71 321.61L475.87 324.29L473.03 326.97L470.18 329.65L467.34 332.32L464.5 335L461.65 337.68L458.81 340.36L455.97 343.04L453.12 345.72L450.28 348.4L447.44 351.08L444.6 353.77L441.75 356.45L438.91 359.13L436.07 361.81Z" fill="#000" fill-opacity="0.2" stroke="none"/>
<path d="M436.07 228.44L438.91 227.6L441.75 226.77L444.6 225.93L447.44 225.09L450.28 224.25L453.12 223.41L455.97 222.57L458.81 221.73L461.65 220.89L464.5 220.05L467.34 219.21L470.18 218.37L473.03 217.53L475.87 216.68L478.71 215.84L481.55 215L484.4 214.15L487.24 213.31L490.08 212.47L492.93 211.62L495.77 210.77L498.61 209.93L501.46 209.08L504.3 208.23L507.14 207.38L509.99 206.53L512.83 205.68L515.67 204.83L518.51 203.98L521.36 203.12L524.2 202.27L527.04 201.41L529.89 200.55L532.73 199.69L535.57 198.83L538.42 197.97L541.26 197.1L544.1 196.23L546.95 195.36L549.79 194.49L552.63 193.61L555.47 192.73L558.32 191.84L561.16 190.95L564 190.06L566.85 189.16L569.69 188.25L572.53 187.34L575.38 186.41L578.22 185.48L581.06 184.54L583.91 183.58L586.75 182.61L589.59 181.62L592.43 180.61L595.28 179.58L598.12 178.52L600.96 177.43L603.81 176.31L606.65 175.15L609.49 173.95L612.34 172.7L615.18 171.4L618.02 170.04L620.87 168.64L623.71 167.2L626.55 165.72L629.39 164.21L632.24 162.66L635.08 161.09L637.92 159.48L640.77 157.85L643.61 156.2L646.45 154.52L649.3 152.83L652.14 151.12L654.98 149.4L657.83 147.67L660.67 145.92L663.51 144.17L666.35 142.4L669.2 140.63L672.04 138.85L674.88 137.07L677.73 135.27L680.57 133.48L683.41 131.68L686.26 129.88L689.1 128.07L691.94 126.26L694.79 124.44L697.63 122.63L700.47 120.81L703.31 118.99L706.16 117.16L709 115.34L711.84 113.51L714.69 111.68L717.53 109.85L720.37 108.02L723.22 106.19L726.06 104.35L728.9 102.52L731.75 100.68L734.59 98.85L737.43 97.01L740.27 95.17L743.12 93.33L745.96 91.49L748.8 89.65L751.65 87.81L754.49 85.96L757.33 84.12L760.18 82.28L763.02 80.43L765.86 78.59L768.7 76.75L771.55 74.9L774.39 73.05L777.23 71.21L777.23 125.16L774.39 126.08L771.55 127.01L768.7 127.94L765.86 128.86L763.02 129.79L760.18 130.72L757.33 131.64L754.49 132.57L751.65 133.5L748.8 134.43L745.96 135.36L743.12 136.29L740.27 137.22L737.43 138.15L734.59 139.09L731.75 140.02L728.9 140.96L726.06 141.89L723.22 142.83L720.37 143.77L717.53 144.71L714.69 145.65L711.84 146.59L709 147.54L706.16 148.48L703.31 149.43L700.47 150.38L697.63 151.33L694.79 152.29L691.94 153.24L689.1 154.2L686.26 155.17L683.41 156.14L680.57 157.11L677.73 158.08L674.88 159.06L672.04 160.05L669.2 161.04L666.35 162.04L663.51 163.05L660.67 164.06L657.83 165.09L654.98 166.12L652.14 167.17L649.3 168.24L646.45 169.32L643.61 170.41L640.77 171.53L637.92 172.67L635.08 173.84L632.24 175.03L629.39 176.26L626.55 177.51L623.71 178.81L620.87 180.14L618.02 181.51L615.18 182.92L612.34 184.37L609.49 185.87L606.65 187.4L603.81 188.98L600.96 190.58L598.12 192.21L595.28 193.87L592.43 195.56L589.59 197.26L586.75 198.99L583.91 200.73L581.06 202.48L578.22 204.25L575.38 206.03L572.53 207.81L569.69 209.61L566.85 211.41L564 213.22L561.16 215.04L558.32 216.86L555.47 218.69L552.63 220.52L549.79 222.35L546.95 224.19L544.1 226.03L541.26 227.88L538.42 229.72L535.57 231.57L532.73 233.42L529.89 235.27L527.04 237.13L524.2 238.99L521.36 240.84L518.51 242.7L515.67 244.56L512.83 246.43L509.99 248.29L507.14 250.15L504.3 252.02L501.46 253.88L498.61 255.75L495.77 257.62L492.93 259.49L490.08 261.36L487.24 263.22L484.4 265.1L481.55 266.97L478.71 268.84L475.87 270.71L473.03 272.58L470.18 274.45L467.34 276.33L464.5 278.2L461.65 280.08L458.81 281.95L455.97 283.82L453.12 285.7L450.28 287.58L447.44 289.45L444.6 291.33L441.75 293.2L438.91 295.08L436.07 296.96Z" fill="#f00" fill-opacity="0.2" stroke="none"/>
<path d="M436.07 264.47L438.91 263.1L441.75 261.72L444.6 260.35L447.44 258.98L450.28 257.6L453.12 256.23L455.97 254.86L458.81 253.48L461.65 252.11L464.5 250.73L467.34 249.36L470.18 247.99L473.03 246.61L475.87 245.24L478.71 243.86L481.55 242.49L484.4 241.11L487.24 239.74L490.08 238.36L492.93 236.98L495.77 235.61L498.61 234.23L501.46 232.86L504.3 231.48L507.14 230.1L509.99 228.73L512.83 227.35L515.67 225.97L518.51 224.6L521.36 223.22L524.2 221.84L527.04 220.46L529.89 219.08L532.73 217.7L535.57 216.32L538.42 214.94L541.26 213.56L544.1 212.18L546.95 210.8L549.79 209.42L552.63 208.04L555.47 206.65L558.32 205.27L561.16 203.89L564 202.5L566.85 201.11L569.69 199.73L572.53 198.34L575.38 196.95L578.22 195.56L581.06 194.17L583.91 192.78L586.75 191.39L589.59 189.99L592.43 188.59L595.28 187.19L598.12 185.79L600.96 184.39L603.81 182.99L606.65 181.58L609.49 180.17L612.34 178.75L615.18 177.33L618.02 175.91L620.87 174.48L623.71 173.05L626.55 171.61L629.39 170.16L632.24 168.71L635.08 167.25L637.92 165.78L640.77 164.29L643.61 162.8L646.45 161.29L649.3 159.76L652.14 158.22L654.98 156.66L657.83 155.08L660.67 153.48L663.51 151.86L666.35 150.21L669.2 148.46L672.04 146.59L674.88 144.64L677.73 142.6L680.57 140.52L683.41 138.38L686.26 136.22L689.1 134.03L691.94 131.82L694.79 129.6L697.63 127.37L700.47 125.13L703.31 122.88L706.16 120.62L709 118.36L711.84 116.09L714.69 113.82L717.53 111.55L720.37 109.28L723.22 107L726.06 104.72L728.9 102.44L731.75 100.16L734.59 97.87L737.43 95.59L740.27 93.3L743.12 91.01L745.96 88.73L748.8 86.44L751.65 84.15L754.49 81.86L757.33 79.57L760.18 77.28L763.02 74.99L765.86 72.69L768.7 70.4L771.55 68.11L774.39 65.82L777.23 63.52L777.23 109.36L774.39 110.52L771.55 111.67L768.7 112.83L765.86 113.99L763.02 115.15L760.18 116.3L757.33 117.46L754.49 118.62L751.65 119.78L748.8 120.94L745.96 122.11L743.12 123.27L740.27 124.43L737.43 125.6L734.59 126.76L731.75 127.93L728.9 129.1L726.06 130.27L723.22 131.45L720.37 132.62L717.53 133.8L714.69 134.98L711.84 136.17L709 137.36L706.16 138.55L703.31 139.75L700.47 140.96L697.63 142.17L694.79 143.4L691.94 144.64L689.1 145.89L686.26 147.16L683.41 148.46L680.57 149.78L677.73 151.14L674.88 152.55L672.04 154L669.2 155.52L666.35 157.1L663.51 158.75L660.67 160.42L657.83 162.12L654.98 163.83L652.14 165.57L649.3 167.32L646.45 169.09L643.61 170.88L640.77 172.68L637.92 174.49L635.08 176.31L632.24 178.14L629.39 179.98L626.55 181.83L623.71 183.69L620.87 185.55L618.02 187.42L615.18 189.29L612.34 191.17L609.49 193.05L606.65 194.93L603.81 196.82L600.96 198.71L598.12 200.6L595.28 202.49L592.43 204.39L589.59 206.29L586.75 208.19L583.91 210.09L581.06 211.99L578.22 213.89L575.38 215.8L572.53 217.7L569.69 219.61L566.85 221.52L564 223.43L561.16 225.34L558.32 227.25L555.47 229.16L552.63 231.07L549.79 232.98L546.95 234.9L544.1 236.81L541.26 238.72L538.42 240.64L535.57 242.55L532.73 244.47L529.89 246.38L527.04 248.3L524.2 250.22L521.36 252.13L518.51 254.05L515.67 255.97L512.83 257.88L509.99 259.8L507.14 261.72L504.3 263.64L501.46 265.56L498.61 267.47L495.77 269.39L492.93 271.31L490.08 273.23L487.24 275.15L484.4 277.07L481.55 278.99L478.71 280.91L475.87 282.83L473.03 284.75L470.18 286.67L467.34 288.59L464.5 290.51L461.65 292.43L458.81 294.35L455.97 296.27L453.12 298.19L450.28 300.12L447.44 302.04L444.6 303.96L441.75 305.88L438.91 307.8L436.07 309.72Z" fill="#008000" fill-opacity="0.2" stroke="none"/>
<path d="M721.6 118V57.6H717.2L724.2 40.2L731.2 57.6H726.8V118Z" fill="#008000"/>
<path d="M441.94 304.36L771.36 88.74" stroke="#000" stroke-width="2.3" fill="none"/>
<path d="M441.94 261.59L771.36 101.05" stroke="#f00" stroke-width="2.3" fill="none"/>
<path d="M441.94 283.69L771.36 92.82" stroke="#008000" stroke-width="2.3" fill="none"/>
<path d="M441.94 315.47L771.36 -5.87" stroke="#000" stroke-width="1.2" fill="none" stroke-dasharray="3.2,2.0"/>
<path d="M597.6 188H607.8M597.6 183.6V192.4M607.8 183.6V192.4M602.6 180.2V197.3M598.2 180.2H607M598.2 197.3H607" stroke="#f00" stroke-width="1.7" fill="none" stroke-opacity="1.0"/>
<path d="M596.7 182.7L608.5 182.7L602.6 193.3Z" fill="#f00" fill-opacity="1.0"/>
<path d="M664.6 138.6H674M664.6 134.2V143M674 134.2V143M669.3 133.3V147.3M664.9 133.3H673.7M664.9 147.3H673.7" stroke="#f00" stroke-width="1.7" fill="none" stroke-opacity="1.0"/>
<path d="M663.4 133.3L675.2 133.3L669.3 143.9Z" fill="#f00" fill-opacity="1.0"/>
<rect x="664.2" y="133.3" width="10.2" height="8.3" fill="#f00"/>
<path d="M624 181.4H636M624 177V185.8M636 177V185.8M630 176V186M625.6 176H634.4M625.6 186H634.4" stroke="#f00" stroke-width="1.7" fill="none" stroke-opacity="1.0"/>
<path d="M624.1 176.1L635.9 176.1L630 186.7Z" fill="#f00" fill-opacity="1.0"/>
<path d="M575.2 205.9H591M575.2 201.5V210.3M591 201.5V210.3M583.8 196V217M579.4 196H588.2M579.4 217H588.2" stroke="#000" stroke-width="1.7" fill="none" stroke-opacity="1.0"/>
<circle cx="583.8" cy="205.9" r="7.1" fill="#000" fill-opacity="1.0"/>
<path d="M619.6 185.1H635.3M619.6 180.7V189.5M635.3 180.7V189.5M627.6 177V197.7M623.2 177H632M623.2 197.7H632" stroke="#000" stroke-width="1.7" fill="none" stroke-opacity="1.0"/>
<circle cx="627.6" cy="185.1" r="7.1" fill="#000" fill-opacity="1.0"/>
</g>
<path d="M60.8 303.9V300.7M83.7 303.9V302.2M97.1 303.9V302.2M106.6 303.9V302.2M113.97 303.9V302.2M120 303.9V302.2M125.09 303.9V302.2M129.5 303.9V302.2M133.39 303.9V302.2M136.88 303.9V300.7M159.78 303.9V302.2M173.17 303.9V302.2M182.68 303.9V302.2M190.05 303.9V302.2M196.07 303.9V302.2M201.17 303.9V302.2M205.58 303.9V302.2M209.47 303.9V302.2M212.95 303.9V300.7M235.85 303.9V302.2M249.25 303.9V302.2M258.75 303.9V302.2M266.12 303.9V302.2M272.15 303.9V302.2M277.24 303.9V302.2M281.65 303.9V302.2M285.54 303.9V302.2M289.03 303.9V300.7M311.93 303.9V302.2M325.32 303.9V302.2M334.83 303.9V302.2M342.2 303.9V302.2M348.22 303.9V302.2M353.32 303.9V302.2M357.73 303.9V302.2M361.62 303.9V302.2M365.1 303.9V300.7M60.8 303.9H64M60.8 281.54H62.5M60.8 268.46H62.5M60.8 259.17H62.5M60.8 251.98H62.5M60.8 246.09H62.5M60.8 241.12H62.5M60.8 236.81H62.5M60.8 233.01H62.5M60.8 229.61H64M60.8 207.25H62.5M60.8 194.17H62.5M60.8 184.89H62.5M60.8 177.69H62.5M60.8 171.81H62.5M60.8 166.83H62.5M60.8 162.52H62.5M60.8 158.72H62.5M60.8 155.32H64M60.8 132.96H62.5M60.8 119.88H62.5M60.8 110.6H62.5M60.8 103.4H62.5M60.8 97.52H62.5M60.8 92.54H62.5M60.8 88.24H62.5M60.8 84.44H62.5M60.8 81.04H64M60.8 58.67H62.5M60.8 45.59H62.5M60.8 36.31H62.5M60.8 29.11H62.5M60.8 23.23H62.5M60.8 18.26H62.5M60.8 13.95H62.5M60.8 10.15H62.5M60.8 6.75H64" stroke="#000" stroke-width="0.9" fill="none"/>
<rect x="60.8" y="6.75" width="304.3" height="297.15" fill="none" stroke="#000" stroke-width="1.3"/>
<text x="46.1" y="319.2" font-size="13.3" textLength="15.9" lengthAdjust="spacingAndGlyphs" font-family="Liberation Sans, sans-serif">10</text>
<text x="62.65" y="314.5" font-size="9.2" textLength="11.6" lengthAdjust="spacingAndGlyphs" font-family="Liberation Sans, sans-serif">−2</text>
<text x="122.17" y="319.2" font-size="13.3" textLength="15.9" lengthAdjust="spacingAndGlyphs" font-family="Liberation Sans, sans-serif">10</text>
<text x="138.72" y="314.5" font-size="9.2" textLength="11.6" lengthAdjust="spacingAndGlyphs" font-family="Liberation Sans, sans-serif">−1</text>
<text x="201.55" y="319.2" font-size="13.3" textLength="15.9" lengthAdjust="spacingAndGlyphs" font-family="Liberation Sans, sans-serif">10</text>
<text x="217.95" y="314.5" font-size="9.2" font-family="Liberation Sans, sans-serif">0</text>
<text x="277.62" y="319.2" font-size="13.3" textLength="15.9" lengthAdjust="spacingAndGlyphs" font-family="Liberation Sans, sans-serif">10</text>
<text x="294.02" y="314.5" font-size="9.2" font-family="Liberation Sans, sans-serif">1</text>
<text x="353.7" y="319.2" font-size="13.3" textLength="15.9" lengthAdjust="spacingAndGlyphs" font-family="Liberation Sans, sans-serif">10</text>
<text x="370.1" y="314.5" font-size="9.2" font-family="Liberation Sans, sans-serif">2</text>
<text x="26.95" y="309.7" font-size="13.3" textLength="15.9" lengthAdjust="spacingAndGlyphs" font-family="Liberation Sans, sans-serif">10</text>
<text x="43.5" y="305" font-size="9.2" textLength="11.6" lengthAdjust="spacingAndGlyphs" font-family="Liberation Sans, sans-serif">−2</text>
<text x="26.95" y="235.41" font-size="13.3" textLength="15.9" lengthAdjust="spacingAndGlyphs" font-family="Liberation Sans, sans-serif">10</text>
<text x="43.5" y="230.71" font-size="9.2" textLength="11.6" lengthAdjust="spacingAndGlyphs" font-family="Liberation Sans, sans-serif">−1</text>
<text x="33.55" y="161.12" font-size="13.3" textLength="15.9" lengthAdjust="spacingAndGlyphs" font-family="Liberation Sans, sans-serif">10</text>
<text x="49.95" y="156.43" font-size="9.2" font-family="Liberation Sans, sans-serif">0</text>
<text x="33.55" y="86.84" font-size="13.3" textLength="15.9" lengthAdjust="spacingAndGlyphs" font-family="Liberation Sans, sans-serif">10</text>
<text x="49.95" y="82.14" font-size="9.2" font-family="Liberation Sans, sans-serif">1</text>
<text x="33.55" y="12.55" font-size="13.3" textLength="15.9" lengthAdjust="spacingAndGlyphs" font-family="Liberation Sans, sans-serif">10</text>
<text x="49.95" y="7.85" font-size="9.2" font-family="Liberation Sans, sans-serif">2</text>
<path d="M453.7 304V300.8M489.09 304V302.3M509.79 304V302.3M524.48 304V302.3M535.87 304V302.3M545.18 304V302.3M553.05 304V302.3M559.87 304V302.3M565.88 304V302.3M571.26 304V300.8M606.65 304V302.3M627.35 304V302.3M642.04 304V302.3M653.43 304V302.3M662.74 304V302.3M670.61 304V302.3M677.43 304V302.3M683.44 304V302.3M688.82 304V300.8M724.21 304V302.3M744.91 304V302.3M759.6 304V302.3M453.7 304H456.9M453.7 269.48H455.4M453.7 249.28H455.4M453.7 234.96H455.4M453.7 223.84H455.4M453.7 214.76H455.4M453.7 207.09H455.4M453.7 200.44H455.4M453.7 194.57H455.4M453.7 189.32H456.9M453.7 154.8H455.4M453.7 134.61H455.4M453.7 120.28H455.4M453.7 109.16H455.4M453.7 100.08H455.4M453.7 92.41H455.4M453.7 85.76H455.4M453.7 79.89H455.4M453.7 74.64H456.9M453.7 40.12H455.4M453.7 19.93H455.4M453.7 5.6H455.4" stroke="#000" stroke-width="0.9" fill="none"/>
<rect x="453.7" y="5.6" width="305.9" height="298.4" fill="none" stroke="#000" stroke-width="1.3"/>
<text x="439" y="319.2" font-size="13.3" textLength="15.9" lengthAdjust="spacingAndGlyphs" font-family="Liberation Sans, sans-serif">10</text>
<text x="455.55" y="314.5" font-size="9.2" textLength="11.6" lengthAdjust="spacingAndGlyphs" font-family="Liberation Sans, sans-serif">−2</text>
<text x="556.56" y="319.2" font-size="13.3" textLength="15.9" lengthAdjust="spacingAndGlyphs" font-family="Liberation Sans, sans-serif">10</text>
<text x="573.11" y="314.5" font-size="9.2" textLength="11.6" lengthAdjust="spacingAndGlyphs" font-family="Liberation Sans, sans-serif">−1</text>
<text x="677.42" y="319.2" font-size="13.3" textLength="15.9" lengthAdjust="spacingAndGlyphs" font-family="Liberation Sans, sans-serif">10</text>
<text x="693.82" y="314.5" font-size="9.2" font-family="Liberation Sans, sans-serif">0</text>
<text x="419.85" y="309.8" font-size="13.3" textLength="15.9" lengthAdjust="spacingAndGlyphs" font-family="Liberation Sans, sans-serif">10</text>
<text x="436.4" y="305.1" font-size="9.2" textLength="11.6" lengthAdjust="spacingAndGlyphs" font-family="Liberation Sans, sans-serif">−2</text>
<text x="419.85" y="195.12" font-size="13.3" textLength="15.9" lengthAdjust="spacingAndGlyphs" font-family="Liberation Sans, sans-serif">10</text>
<text x="436.4" y="190.42" font-size="9.2" textLength="11.6" lengthAdjust="spacingAndGlyphs" font-family="Liberation Sans, sans-serif">−1</text>
<text x="426.45" y="80.44" font-size="13.3" textLength="15.9" lengthAdjust="spacingAndGlyphs" font-family="Liberation Sans, sans-serif">10</text>
<text x="442.85" y="75.74" font-size="9.2" font-family="Liberation Sans, sans-serif">0</text>
<rect x="115.8" y="17.2" width="195.6" height="31" rx="2" fill="#fff" fill-opacity="0.8" stroke="#ccc" stroke-width="0.8"/>
<path d="M123.3 24.7H133.7M123.3 22.7V26.7M133.7 22.7V26.7M128.5 19.6V29.8M126.5 19.6H130.5M126.5 29.8H130.5" stroke="#f00" stroke-width="1.0" fill="none" stroke-opacity="0.2"/>
<path d="M125.9 22.4L131.1 22.4L128.5 27Z" fill="#f00" fill-opacity="0.3"/>
<path d="M123.3 39H133.7M123.3 37V41M133.7 37V41M128.5 33.9V44.6M126.5 33.9H130.5M126.5 44.6H130.5" stroke="#000" stroke-width="1.0" fill="none" stroke-opacity="0.2"/>
<circle cx="128.5" cy="39" r="2.7" fill="#000" fill-opacity="0.25"/>
<text x="146.1" y="28.8" font-size="10.4" font-family="Liberation Sans, sans-serif" textLength="160.7" lengthAdjust="spacingAndGlyphs">ALESS/AS2UDS SMGs (<tspan font-style="italic">α</tspan><tspan font-size="7.3" dy="2">CO</tspan><tspan dy="-2"> = 0.80)</tspan></text>
<text x="146.1" y="42.9" font-size="10.4" font-family="Liberation Sans, sans-serif" textLength="109.6" lengthAdjust="spacingAndGlyphs">This study (<tspan font-style="italic">α</tspan><tspan font-size="7.3" dy="2">CO</tspan><tspan dy="-2"> = 0.80)</tspan></text>
<rect x="509" y="16.2" width="197" height="31" rx="2" fill="#fff" fill-opacity="0.8" stroke="#ccc" stroke-width="0.8"/>
<path d="M517.2 23.7H527.6M517.2 21.7V25.7M527.6 21.7V25.7M522.4 18.6V28.8M520.4 18.6H524.4M520.4 28.8H524.4" stroke="#f00" stroke-width="1.0" fill="none" stroke-opacity="0.2"/>
<path d="M519.8 21.4L525 21.4L522.4 26Z" fill="#f00" fill-opacity="0.3"/>
<path d="M517.2 38H527.6M517.2 36V40M527.6 36V40M522.4 32.9V43.6M520.4 32.9H524.4M520.4 43.6H524.4" stroke="#000" stroke-width="1.0" fill="none" stroke-opacity="0.2"/>
<circle cx="522.4" cy="38" r="2.7" fill="#000" fill-opacity="0.25"/>
<text x="539.3" y="27.8" font-size="10.4" font-family="Liberation Sans, sans-serif" textLength="160.7" lengthAdjust="spacingAndGlyphs">ALESS/AS2UDS SMGs (<tspan font-style="italic">α</tspan><tspan font-size="7.3" dy="2">CO</tspan><tspan dy="-2"> = 0.80)</tspan></text>
<text x="539.3" y="41.9" font-size="10.4" font-family="Liberation Sans, sans-serif" textLength="109.6" lengthAdjust="spacingAndGlyphs">This study (<tspan font-style="italic">α</tspan><tspan font-size="7.3" dy="2">CO</tspan><tspan dy="-2"> = 0.80)</tspan></text>
<text x="130.1" y="337.9" font-size="14.5" font-style="italic" textLength="10" lengthAdjust="spacingAndGlyphs" fill="#000" font-family="Liberation Sans, sans-serif">μ</text>
<text x="139" y="340.4" font-size="10.2" textLength="63.2" lengthAdjust="spacingAndGlyphs" fill="#000" font-family="Liberation Sans, sans-serif">gas, Tacconi</text>
<text x="206.6" y="337.4" font-size="14.5" fill="#000" font-family="Liberation Sans, sans-serif">(</text>
<text x="210.3" y="337.4" font-size="14.5" font-style="italic" textLength="8.1" lengthAdjust="spacingAndGlyphs" fill="#000" font-family="Liberation Sans, sans-serif">z</text>
<text x="218.5" y="337.4" font-size="14.5" textLength="4.6" lengthAdjust="spacingAndGlyphs" fill="#000" font-family="Liberation Sans, sans-serif">,</text>
<text x="229.9" y="337.4" font-size="14.5" font-style="italic" textLength="10.1" lengthAdjust="spacingAndGlyphs" fill="#000" font-family="Liberation Sans, sans-serif">δ</text>
<text x="239.3" y="337.4" font-size="14.5" textLength="28.6" lengthAdjust="spacingAndGlyphs" fill="#000" font-family="Liberation Sans, sans-serif">MS,</text>
<text x="270.6" y="337.4" font-size="14.5" textLength="14.6" lengthAdjust="spacingAndGlyphs" fill="#000" font-family="Liberation Sans, sans-serif">M</text>
<text x="283.4" y="343" font-size="14" fill="#000" font-family="Liberation Sans, sans-serif">*</text>
<text x="290.5" y="337.4" font-size="14.5" fill="#000" font-family="Liberation Sans, sans-serif">)</text>
<text x="501.4" y="337.4" font-size="14.5" font-style="italic" textLength="5.9" lengthAdjust="spacingAndGlyphs" fill="#000" font-family="Liberation Sans, sans-serif">t</text>
<text x="508.4" y="340.4" font-size="10.2" textLength="67.2" lengthAdjust="spacingAndGlyphs" fill="#000" font-family="Liberation Sans, sans-serif">depl, Tacconi</text>
<text x="578.7" y="337.4" font-size="14.5" fill="#000" font-family="Liberation Sans, sans-serif">(</text>
<text x="583.7" y="337.4" font-size="14.5" font-style="italic" textLength="7.8" lengthAdjust="spacingAndGlyphs" fill="#000" font-family="Liberation Sans, sans-serif">z</text>
<text x="591.6" y="337.4" font-size="14.5" textLength="4.6" lengthAdjust="spacingAndGlyphs" fill="#000" font-family="Liberation Sans, sans-serif">,</text>
<text x="602.4" y="337.4" font-size="14.5" font-style="italic" textLength="9.9" lengthAdjust="spacingAndGlyphs" fill="#000" font-family="Liberation Sans, sans-serif">δ</text>
<text x="611.6" y="337.4" font-size="14.5" textLength="28" lengthAdjust="spacingAndGlyphs" fill="#000" font-family="Liberation Sans, sans-serif">MS,</text>
<text x="644.6" y="337.4" font-size="14.5" textLength="13" lengthAdjust="spacingAndGlyphs" fill="#000" font-family="Liberation Sans, sans-serif">M</text>
<text x="657.2" y="343" font-size="14" fill="#000" font-family="Liberation Sans, sans-serif">*</text>
<text x="664.5" y="337.4" font-size="14.5" fill="#000" font-family="Liberation Sans, sans-serif">)</text>
<text x="674.8" y="337.4" font-size="14.5" textLength="37" lengthAdjust="spacingAndGlyphs" fill="#000" font-family="Liberation Sans, sans-serif">[Gyr]</text>
<g transform="translate(15.8 170.2) rotate(-90)">
<text x="0" y="0" font-size="14.5" font-style="italic" textLength="10.3" lengthAdjust="spacingAndGlyphs" fill="#000" font-family="Liberation Sans, sans-serif">μ</text>
<text x="9.8" y="1.9" font-size="10.2" textLength="19.9" lengthAdjust="spacingAndGlyphs" fill="#000" font-family="Liberation Sans, sans-serif">gas</text>
</g>
<g transform="translate(408.8 190.0) rotate(-90)">
<text x="-0.1" y="0" font-size="14.5" font-style="italic" textLength="6" lengthAdjust="spacingAndGlyphs" fill="#000" font-family="Liberation Sans, sans-serif">t</text>
<text x="6.4" y="3" font-size="10.2" textLength="20.4" lengthAdjust="spacingAndGlyphs" fill="#000" font-family="Liberation Sans, sans-serif">depl</text>
<text x="33.3" y="0" font-size="14.5" textLength="36.6" lengthAdjust="spacingAndGlyphs" fill="#000" font-family="Liberation Sans, sans-serif">[Gyr]</text>
</g>
<text x="76.3" y="35.3" font-size="18.5" textLength="25.6" lengthAdjust="spacingAndGlyphs" font-family="Liberation Sans, sans-serif">(a)</text>
<text x="470.0" y="34.3" font-size="18.5" textLength="26.4" lengthAdjust="spacingAndGlyphs" font-family="Liberation Sans, sans-serif">(b)</text>
<text x="75.9" y="68.3" font-size="10.4" fill="#000" textLength="131.3" lengthAdjust="spacingAndGlyphs" font-family="Liberation Sans, sans-serif">slope=1.1±0.2 (This Study)</text>
<text x="75.9" y="83.1" font-size="10.4" fill="#f00" textLength="141" lengthAdjust="spacingAndGlyphs" font-family="Liberation Sans, sans-serif">slope=1.1±0.1 (Birkin+2021)</text>
<text x="75.9" y="97.9" font-size="10.4" fill="#008000" textLength="106.5" lengthAdjust="spacingAndGlyphs" font-family="Liberation Sans, sans-serif">slope=1.1±0.1 (Total)</text>
<text x="469" y="67.3" font-size="10.4" fill="#000" textLength="132.5" lengthAdjust="spacingAndGlyphs" font-family="Liberation Sans, sans-serif">slope=0.7±0.3 (This Study)</text>
<text x="469" y="82.1" font-size="10.4" fill="#f00" textLength="141.5" lengthAdjust="spacingAndGlyphs" font-family="Liberation Sans, sans-serif">slope=0.5±0.1 (Birkin+2021)</text>
<text x="469" y="96.9" font-size="10.4" fill="#008000" textLength="107" lengthAdjust="spacingAndGlyphs" font-family="Liberation Sans, sans-serif">slope=0.6±0.1 (Total)</text>
</svg></body></html>
